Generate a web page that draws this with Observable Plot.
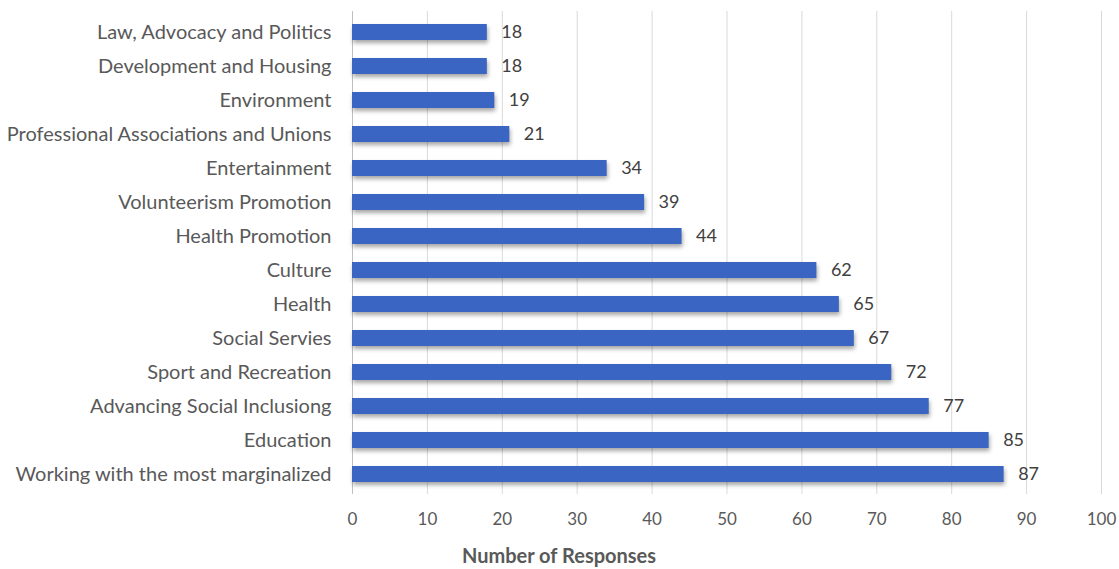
<!DOCTYPE html>
<html>
<head>
<meta charset="utf-8">
<script src="https://cdn.jsdelivr.net/npm/d3@7"></script>
<script src="https://cdn.jsdelivr.net/npm/@observablehq/plot@0.6"></script>
<style>
  body { margin: 0; background: #fff; }
  svg { font-family: Lato, "Open Sans", sans-serif; }
</style>
</head>
<body>
<div id="chart"></div>
<script>
const categories = [
  "Law, Advocacy and Politics",
  "Development and Housing",
  "Environment",
  "Professional Associations and Unions",
  "Entertainment",
  "Volunteerism Promotion",
  "Health Promotion",
  "Culture",
  "Health",
  "Social Servies",
  "Sport and Recreation",
  "Advancing Social Inclusiong",
  "Education",
  "Working with the most marginalized"
];
const values = [18, 18, 19, 21, 34, 39, 44, 62, 65, 67, 72, 77, 85, 87];
const xTicks = [0, 10, 20, 30, 40, 50, 60, 70, 80, 90, 100];
const axisTitle = "Number of Responses";

const data = categories.map((c, i) => ({category: c, value: values[i]}));

const chart = Plot.plot({
  width: 1119,
  height: 569,
  marginLeft: 352,
  marginRight: 18,
  marginTop: 11,
  marginBottom: 75,
  style: {fontSize: "17px", color: "#595959", background: "#fff"},
  x: {domain: [0, 100], ticks: xTicks},
  y: {domain: categories, padding: 0},
  marks: [
    Plot.gridX(xTicks, {stroke: "#d9d9d9", strokeOpacity: 1}),
    Plot.ruleX([0], {stroke: "#bfbfbf"}),
    Plot.barX(data, {y: "category", x: "value", fill: "#3a65c2", insetTop: 9, insetBottom: 9}),
    Plot.text(data, {y: "category", x: "value", text: d => String(d.value), textAnchor: "start", dx: 14, fill: "#404040", fontSize: 18}),
    Plot.axisX(xTicks, {tickSize: 0, tickPadding: 18, label: null, fill: "#595959", fontSize: 17}),
    Plot.axisY({tickSize: 0, tickPadding: 21, label: null, fill: "#595959", fontSize: 20}),
    Plot.text([axisTitle], {frameAnchor: "bottom", dx: -168, dy: 68, fontWeight: "bold", fill: "#595959", fontSize: 20})
  ]
});
chart.querySelectorAll('g[aria-label="bar"] rect').forEach(r => r.setAttribute("filter", "drop-shadow(1px 3px 2px rgba(0,0,0,0.35))"));
document.getElementById("chart").appendChild(chart);
</script>
</body>
</html>
